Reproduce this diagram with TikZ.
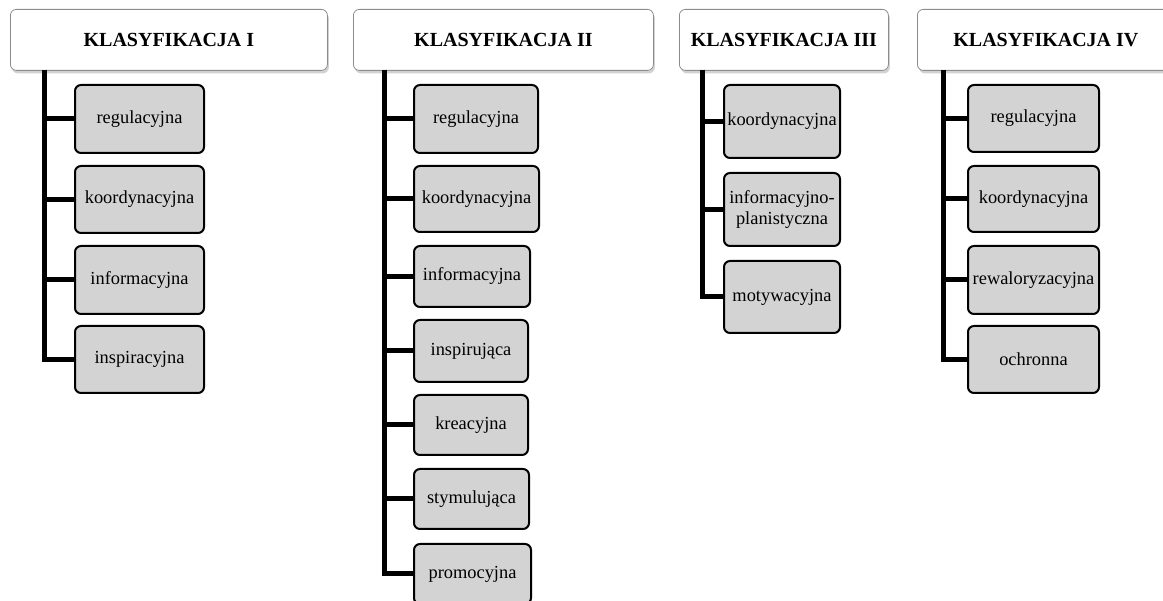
\documentclass[tikz,border=0pt]{standalone}
\usepackage{fontspec}
\setmainfont{Liberation Serif}
\usepackage{tikz}
\usetikzlibrary{shadows}
\definecolor{boxgray}{HTML}{D3D3D3}
\definecolor{edgegray}{HTML}{8C8C8C}

\begin{document}
\begin{tikzpicture}[x=1pt,y=-1pt,
  head/.style={draw=edgegray,line width=0.8pt,fill=white,rounded corners=6pt,anchor=north west,inner sep=0pt,minimum height=61pt,font=\fontsize{20}{24}\selectfont\bfseries,drop shadow={shadow xshift=1.5pt,shadow yshift=-3pt,fill=black!35}},
  item/.style={draw,line width=2pt,fill=boxgray,rounded corners=6pt,anchor=north west,inner sep=0pt,align=center,font=\fontsize{18.4}{20.5}\selectfont},
  size/.style 2 args={minimum width=#1pt,minimum height=#2pt},
  link/.style={line width=5pt}
]
  \clip (0,0) rectangle (1163,601);

  \node[head,minimum width=317pt] (hI) at (10,9) {KLASYFIKACJA I};
  \node[head,minimum width=300pt] (hII) at (353,9) {KLASYFIKACJA II};
  \node[head,minimum width=209pt] (hIII) at (679,9) {KLASYFIKACJA III};
  \node[head,minimum width=257pt] (hIV) at (917,9) {KLASYFIKACJA IV};

  \coordinate (tI) at (44,70);
  \coordinate (tII) at (384,70);
  \coordinate (tIII) at (702,70);
  \coordinate (tIV) at (943,70);

  \node[item,size={129}{68}] (cI1) at (74,84) {regulacyjna};
  \node[item,size={129}{67}] (cI2) at (74,165) {koordynacyjna};
  \node[item,size={129}{68}] (cI3) at (74,245) {informacyjna};
  \node[item,size={129}{67}] (cI4) at (74,325) {inspiracyjna};

  \node[item,size={124}{68}] (cII1) at (413,84) {regulacyjna};
  \node[item,size={125}{66}] (cII2) at (413,165) {koordynacyjna};
  \node[item,size={116}{61}] (cII3) at (413,245) {informacyjna};
  \node[item,size={114}{62}] (cII4) at (413,319) {inspirująca};
  \node[item,size={114}{60}] (cII5) at (413,394) {kreacyjna};
  \node[item,size={115}{60}] (cII6) at (413,468) {stymulująca};
  \node[item,size={117}{60}] (cII7) at (413,543) {promocyjna};

  \node[item,size={116}{73}] (cIII1) at (723,84) {koordynacyjna};
  \node[item,size={116}{73}] (cIII2) at (723,172) {informacyjno-\\planistyczna};
  \node[item,size={116}{72}] (cIII3) at (723,260) {motywacyjna};

  \node[item,size={131}{67}] (cIV1) at (967,84) {regulacyjna};
  \node[item,size={131}{66}] (cIV2) at (967,165) {koordynacyjna};
  \node[item,size={131}{68}] (cIV3) at (967,245) {rewaloryzacyjna};
  \node[item,size={131}{67}] (cIV4) at (967,325) {ochronna};

  \foreach \i in {1,...,4} \draw[link] (tI) |- (cI\i.west);
  \foreach \i in {1,...,7} \draw[link] (tII) |- (cII\i.west);
  \foreach \i in {1,...,3} \draw[link] (tIII) |- (cIII\i.west);
  \foreach \i in {1,...,4} \draw[link] (tIV) |- (cIV\i.west);
\end{tikzpicture}
\end{document}
